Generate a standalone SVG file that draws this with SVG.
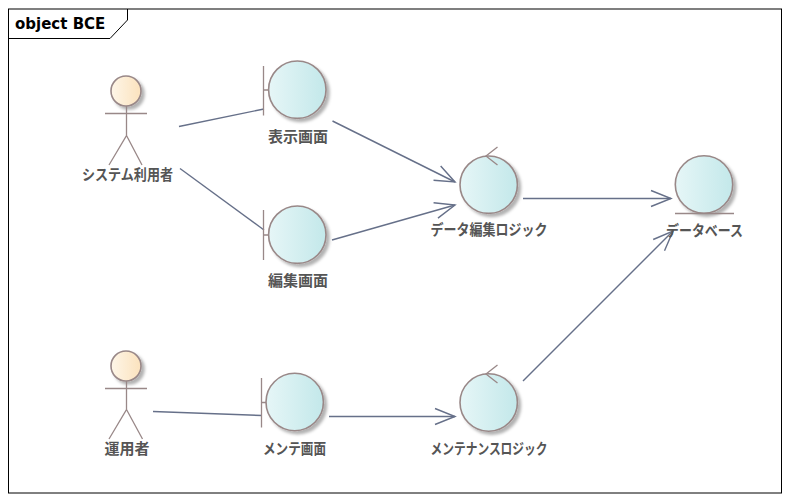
<svg xmlns="http://www.w3.org/2000/svg" width="789" height="501" viewBox="0 0 789 501">
<style>
.s{stroke:#998888;stroke-width:1.3;fill:none}
.c{stroke:#998888;stroke-width:1.6;fill:url(#cy);filter:url(#sh)}
.a{stroke:#998888;stroke-width:1.6;fill:url(#or);filter:url(#sh)}
.l{font-family:"Noto Sans CJK JP","Noto Sans CJK SC",sans-serif;font-size:15px;font-weight:700;fill:#555;text-anchor:middle}
.e{stroke:#667089;stroke-width:1.4;fill:none}
.t{font-family:"DejaVu Sans",sans-serif;font-size:15px;font-weight:700;fill:#000}
</style>
<defs>
<linearGradient id="cy"><stop offset="0" stop-color="#e6f6f7"/><stop offset="1" stop-color="#c3e8ea"/></linearGradient>
<linearGradient id="or"><stop offset="0" stop-color="#fef6e8"/><stop offset="1" stop-color="#fbe2bd"/></linearGradient>
<filter id="sh" x="-20%" y="-20%" width="150%" height="150%"><feDropShadow dx="3" dy="3" stdDeviation="1.5" flood-color="#000" flood-opacity="0.3"/></filter>
<marker id="ar" viewBox="-22 -11 24 22" refX="0" refY="0" markerWidth="24" markerHeight="22" markerUnits="userSpaceOnUse" orient="auto"><path d="M-20,-8 L0,0 L-20,8" fill="none" stroke="#667089" stroke-width="1.4"/></marker>
</defs>
<rect width="789" height="501" fill="#fff"/>
<g id="frame">
<rect x="8.5" y="9" width="773" height="484" fill="#fff" stroke="#000" stroke-width="1"/>
<path d="M8.5,38.5 H110 L127.500,20 V9" fill="none" stroke="#000"/>
<text class="t" x="15" y="29">object BCE</text>
</g>
<g id="connectors">
<path class="e" d="M179,126.500 L264,109"/>
<path class="e" d="M180,168.500 L264,230"/>
<path class="e" d="M332.500,121 L455,182" marker-end="url(#ar)"/>
<path class="e" d="M332,240 L455,205" marker-end="url(#ar)"/>
<path class="e" d="M523,198.500 H671" marker-end="url(#ar)"/>
<path class="e" d="M523,381 L673,231" marker-end="url(#ar)"/>
<path class="e" d="M153,411.500 L262,415.500"/>
<path class="e" d="M329,416.500 H455" marker-end="url(#ar)"/>
</g>
<g id="actor1">
<circle class="a" cx="126" cy="91" r="15"/>
<path class="s" d="M105,113.500 H147 M126.500,106 V135.500 L109,165 M126.500,135.500 L142,165"/>
<text class="l" x="127.500" y="180" textLength="91" lengthAdjust="spacingAndGlyphs">システム利用者</text>
</g>
<g id="boundary1">
<path class="s" d="M263.500,66 V115.500 M263.500,90 H269"/>
<circle class="c" cx="297.300" cy="89.700" r="28.700"/>
<text class="l" x="298" y="142" textLength="60" lengthAdjust="spacingAndGlyphs">表示画面</text>
</g>
<g id="boundary2">
<path class="s" d="M263.500,210 V260 M263.500,235 H269"/>
<circle class="c" cx="297.300" cy="234.700" r="28.700"/>
<text class="l" x="298" y="286" textLength="60" lengthAdjust="spacingAndGlyphs">編集画面</text>
</g>
<g id="control1">
<circle class="c" cx="488.700" cy="184.700" r="28.700"/>
<path class="s" d="M497.500,147 L486,156 L497.500,165"/>
<text class="l" x="489" y="235" textLength="117" lengthAdjust="spacingAndGlyphs">データ編集ロジック</text>
</g>
<g id="entity">
<circle class="c" cx="704" cy="184.500" r="28.700"/>
<path class="s" d="M675,213.500 H734"/>
<text class="l" x="704.500" y="236" textLength="77" lengthAdjust="spacingAndGlyphs">データベース</text>
</g>
<g id="actor2">
<circle class="a" cx="126" cy="366" r="15"/>
<path class="s" d="M105,388.500 H147 M126.500,381 V409.500 L109,439 M126.500,409.500 L142.500,439"/>
<text class="l" x="127" y="454" textLength="45" lengthAdjust="spacingAndGlyphs">運用者</text>
</g>
<g id="boundary3">
<path class="s" d="M261.500,378 V427.500 M261.500,402.500 H267"/>
<circle class="c" cx="294.700" cy="402" r="28.700"/>
<text class="l" x="294.500" y="454" textLength="63" lengthAdjust="spacingAndGlyphs">メンテ画面</text>
</g>
<g id="control2">
<circle class="c" cx="488.700" cy="402.500" r="28.700"/>
<path class="s" d="M497.500,365 L486,374 L497.500,383"/>
<text class="l" x="489" y="454" textLength="117" lengthAdjust="spacingAndGlyphs">メンテナンスロジック</text>
</g>
</svg>
